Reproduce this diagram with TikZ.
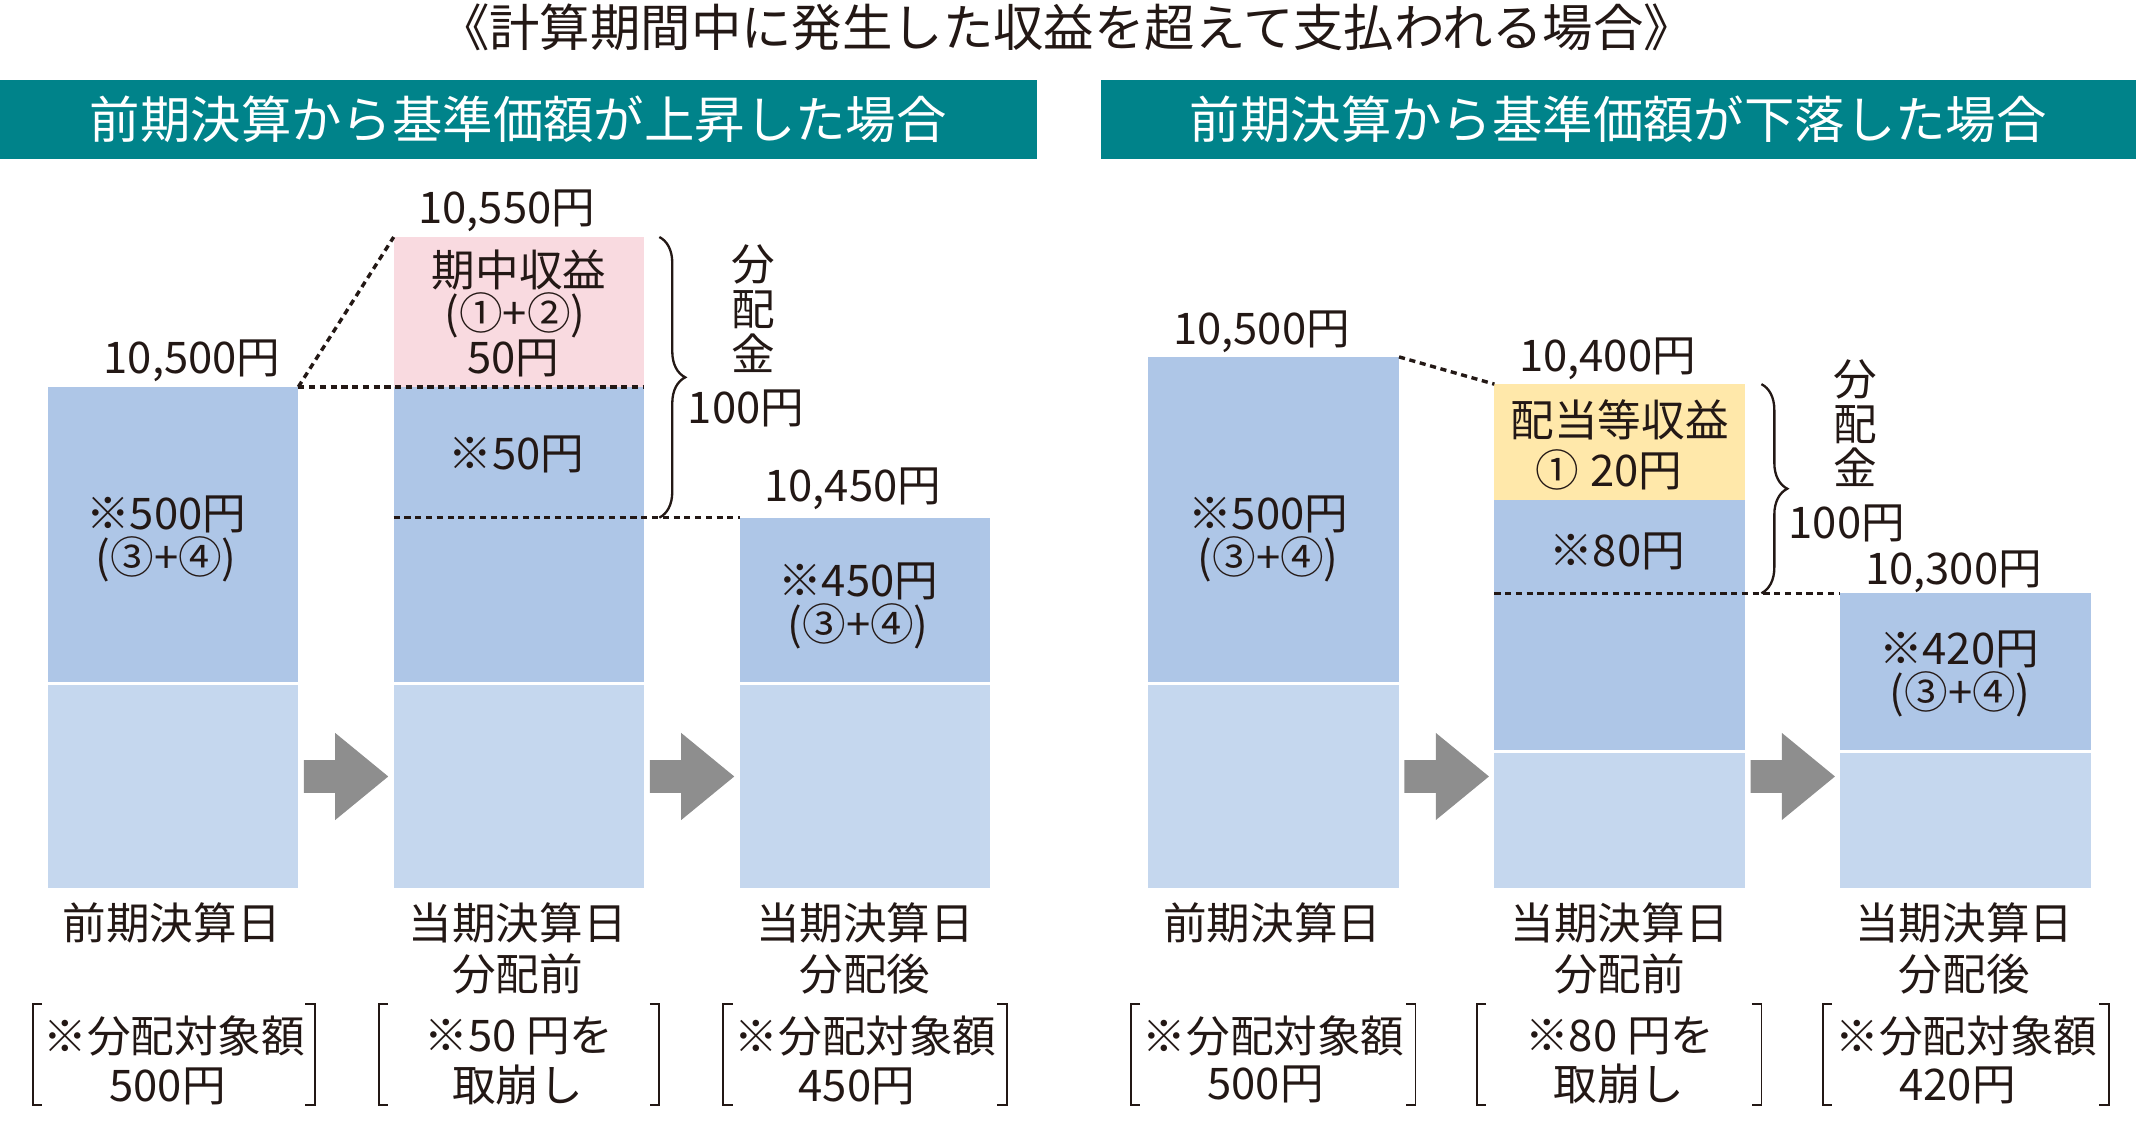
\documentclass[tikz,border=0pt]{standalone}
\usepackage{fontspec}
\setmainfont{Noto Sans CJK JP}
\usetikzlibrary{decorations.pathreplacing}
\definecolor{hdrteal}{HTML}{00838A}
\definecolor{bardark}{HTML}{AEC6E7}
\definecolor{barlight}{HTML}{C5D7EE}
\definecolor{barpink}{HTML}{F9DAE0}
\definecolor{baryellow}{HTML}{FFE8AA}
\definecolor{arrowgray}{HTML}{8E8E8E}
\definecolor{inkc}{HTML}{231815}
\begin{document}
\begin{tikzpicture}[x=1pt,y=-1pt,
  seg/.style={draw=none,inner sep=0pt,outer sep=0pt,minimum width=184pt},
  lbl/.style={text=inkc,inner sep=0pt,outer sep=0pt,anchor=base,font=\fontsize{32}{36}\selectfont},
  hdr/.style={fill=hdrteal,inner sep=0pt,outer sep=0pt,minimum height=58pt,text=white,font=\fontsize{37}{40}\selectfont},
  dots/.style={draw=inkc,line width=2.5pt,dash pattern=on 4.5pt off 3.4pt},
  brc/.style={draw=inkc,line width=1.7pt,decorate,decoration={brace,amplitude=19pt}},
  bkt/.style={draw=inkc,line width=1.3pt},
  garrow/.pic={\fill[arrowgray] (0,-12) -- (23,-12) -- (23,-32) -- (62,0) -- (23,32) -- (23,12) -- (0,12) -- cycle;}
]
\useasboundingbox (0,0) rectangle (1568,834);

% title
\node[lbl,font=\fontsize{37}{40}\selectfont] (title) at (783,34) {《計算期間中に発生した収益を超えて支払われる場合》};

% header bands
\node[hdr,minimum width=761pt] (hL) at (380.5,87.6) {前期決算から基準価額が上昇した場合};
\node[hdr,minimum width=760pt] (hR) at (1188,87.6) {前期決算から基準価額が下落した場合};

% ---------- left panel bars ----------
\node[seg,fill=bardark,minimum height=217pt] (b1d) at (127,392.5) {};
\node[seg,fill=barlight,minimum height=149pt] (b1l) at (127,577.5) {};
\node[seg,fill=barpink,minimum height=110pt] (b2p) at (381,229) {};
\node[seg,fill=bardark,minimum height=217pt] (b2d) at (381,392.5) {};
\node[seg,fill=barlight,minimum height=149pt] (b2l) at (381,577.5) {};
\node[seg,fill=bardark,minimum height=121pt] (b3d) at (635,440.5) {};
\node[seg,fill=barlight,minimum height=149pt] (b3l) at (635,577.5) {};

% ---------- right panel bars ----------
\node[seg,fill=bardark,minimum height=239pt] (b4d) at (935,381.5) {};
\node[seg,fill=barlight,minimum height=149pt] (b4l) at (935,577.5) {};
\node[seg,fill=baryellow,minimum height=85pt] (b5y) at (1189,324.5) {};
\node[seg,fill=bardark,minimum height=183.5pt] (b5d) at (1189,458.75) {};
\node[seg,fill=barlight,minimum height=99.5pt] (b5l) at (1189,602.25) {};
\node[seg,fill=bardark,minimum height=115pt] (b6d) at (1443,493) {};
\node[seg,fill=barlight,minimum height=99.5pt] (b6l) at (1443,602.25) {};

% dotted guide lines
\draw[dots] (b1d.north east) -- (b2d.north east);
\draw[dots] (b1d.north east) -- (b2p.north west);
\draw[dots] (b2d.west |- b3d.north) -- (b3d.north west);
\draw[dots] (b4d.north east) -- (b5y.north west);
\draw[dots] (b5d.west |- b6d.north) -- (b6d.north west);

% braces
\coordinate (brLt) at (484,174);
\coordinate (brLb) at (484,380);
\coordinate (brRt) at (1293,282);
\coordinate (brRb) at (1293,435.5);
\draw[brc] (brLt) -- (brLb);
\draw[brc] (brRt) -- (brRb);

% arrows
\foreach \ax in {223,477,1031,1285} \pic at (\ax,570) {garrow};

% brackets
\foreach \xa/\xb in {24/231,278/484,531/739,830/1039,1084/1293,1338/1548} {
  \draw[bkt] (\xa+7,737) -- (\xa,737) -- (\xa,811) -- (\xa+7,811);
  \draw[bkt] (\xb-7,737) -- (\xb,737) -- (\xb,811) -- (\xb-7,811);
}

% ---------- left labels ----------
\node[lbl] (vL1) at (141,274) {10,500円};
\node[lbl] (vL2) at (372,164) {10,550円};
\node[lbl] (pkA) at (381,210) {期中収益};
\node[lbl] (pkB) at (378,242) {(①+②)};
\node[lbl] (pkC) at (377,274) {50円};
\node[lbl] (b2t) at (379,345) {※50円};
\node[lbl] (b1a) at (122,389) {※500円};
\node[lbl] (b1b) at (122,421) {(③+④)};
\node[lbl] (vL3) at (626,368) {10,450円};
\node[lbl] (b3a) at (630,438) {※450円};
\node[lbl] (b3b) at (630,470) {(③+④)};
\node[lbl] (dkL1) at (553,206) {分};
\node[lbl] (dkL2) at (553,239) {配};
\node[lbl] (dkL3) at (553,272) {金};
\node[lbl,anchor=base west] (hyL) at (505,311) {100円};
\node[lbl] (dL1) at (126,690) {前期決算日};
\node[lbl] (dL2) at (380,690) {当期決算日};
\node[lbl] (dL2b) at (380,727) {分配前};
\node[lbl] (dL3) at (635,690) {当期決算日};
\node[lbl] (dL3b) at (635,727) {分配後};
\node[lbl] (kL1) at (128,772.5) {※分配対象額};
\node[lbl] (kL1b) at (123,808.5) {500円};
\node[lbl] (kL2) at (381,772) {※50 円を};
\node[lbl] (kL2b) at (380,808.5) {取崩し};
\node[lbl] (kL3) at (635.5,772.5) {※分配対象額};
\node[lbl] (kL3b) at (629,808.5) {450円};

% ---------- right labels ----------
\node[lbl] (vR1) at (926,253) {10,500円};
\node[lbl] (vR2) at (1180,273) {10,400円};
\node[lbl] (ylA) at (1189,320.5) {配当等収益};
\node[lbl] (ylB) at (1181,357) {①\hspace{8pt}20円};
\node[lbl] (b5t) at (1187,416) {※80円};
\node[lbl] (b4a) at (931,389) {※500円};
\node[lbl] (b4b) at (931,421) {(③+④)};
\node[lbl] (dkR1) at (1362,290) {分};
\node[lbl] (dkR2) at (1362,323) {配};
\node[lbl] (dkR3) at (1362,356) {金};
\node[lbl,anchor=base west] (hyR) at (1313,395) {100円};
\node[lbl] (vR3) at (1434,429) {10,300円};
\node[lbl] (b6a) at (1438,488) {※420円};
\node[lbl] (b6b) at (1439,520) {(③+④)};
\node[lbl] (dR1) at (934,690) {前期決算日};
\node[lbl] (dR2) at (1189,690) {当期決算日};
\node[lbl] (dR2b) at (1189,727) {分配前};
\node[lbl] (dR3) at (1442,690) {当期決算日};
\node[lbl] (dR3b) at (1442,727) {分配後};
\node[lbl] (kR1) at (935,772.5) {※分配対象額};
\node[lbl] (kR1b) at (929,807) {500円};
\node[lbl] (kR2) at (1189,772) {※80 円を};
\node[lbl] (kR2b) at (1188.5,808) {取崩し};
\node[lbl] (kR3) at (1443.5,772.5) {※分配対象額};
\node[lbl] (kR3b) at (1437,808) {420円};
\end{tikzpicture}
\end{document}
